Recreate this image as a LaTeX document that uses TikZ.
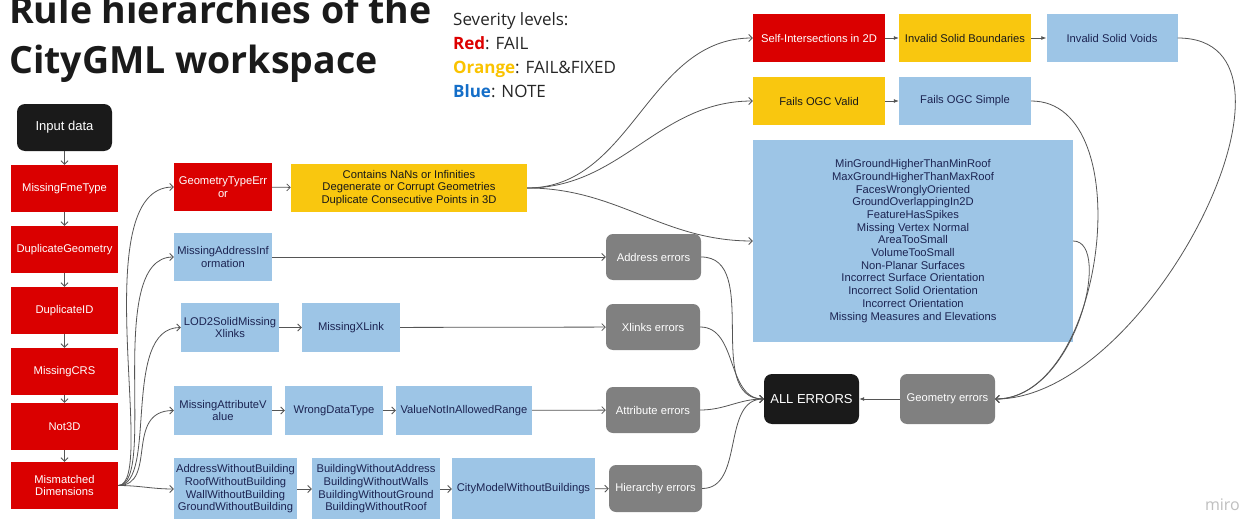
\documentclass[tikz,border=0pt]{standalone}
\usepackage{fontspec}
\setmainfont{Liberation Sans}
\newfontfamily\osans{Open Sans}
\usetikzlibrary{arrows.meta}
\definecolor{cred}{RGB}{218,0,0}
\definecolor{cyel}{RGB}{249,199,15}
\definecolor{cblue}{RGB}{157,197,230}
\definecolor{cnavy}{RGB}{28,36,82}
\definecolor{cgray}{RGB}{128,128,128}
\definecolor{cblack}{RGB}{26,26,26}
\definecolor{cline}{RGB}{85,85,85}
\definecolor{sevred}{RGB}{221,0,0}
\definecolor{sevorange}{RGB}{250,195,0}
\definecolor{sevblue}{RGB}{20,110,200}
\newcommand\bxfont{\fontsize{11.2}{12.7}\selectfont}
\newcommand\bigbxfont{\fontsize{13}{15}\selectfont}
\tikzset{
 bx/.style={rectangle, inner sep=0pt, align=center, font=\bxfont},
 sz/.style 2 args={minimum width=#1pt, minimum height=#2pt},
 redbox/.style={bx, fill=cred, text=white},
 yelbox/.style={bx, fill=cyel, text=black!90},
 bluebox/.style={bx, fill=cblue, text=cnavy},
 graybox/.style={bx, fill=cgray, text=white, rounded corners=7pt},
 blackbox/.style={bx, fill=cblack, text=white, rounded corners=8pt, font=\bigbxfont},
 con/.style={draw=cline, line width=0.8pt, -{Straight Barb[length=3.5pt,width=7pt]}},
 fcon/.style={draw=cline, line width=0.8pt, -{Latex[length=5pt,width=4pt]}},
 titletext/.style={anchor=base west, inner sep=0pt, text=cblack, font=\osans\bfseries\fontsize{37.5}{45}\selectfont},
 sevtext/.style={anchor=base west, inner sep=0pt, text=black!85, font=\osans\fontsize{17}{24}\selectfont},
}
\begin{document}
\begin{tikzpicture}[x=1pt,y=-1pt]
\useasboundingbox[fill=white] (0,0) rectangle (1245,519);

% title and legend
\node[titletext] (t1) at (9,24) {Rule hierarchies of the};
\node[titletext] (t2) at (9,74) {CityGML workspace};
\node[sevtext] (s0) at (453,26) {Severity levels:};
\node[sevtext] (s1) at (453,50) {\textcolor{sevred}{\bfseries Red}: FAIL};
\node[sevtext] (s2) at (453,74) {\textcolor{sevorange}{\bfseries Orange}: FAIL\&FIXED};
\node[sevtext] (s3) at (453,97) {\textcolor{sevblue}{\bfseries Blue}: NOTE};
\node[anchor=base east, inner sep=0pt, text=black!25, font=\osans\fontsize{16}{18}\selectfont] (miro) at (1240,510) {miro};

% left column
\node[blackbox, sz={95}{47}] (inp) at (64.5,127.5) {Input data};
\node[redbox, sz={107}{47}] (mft) at (64.5,188.5) {MissingFmeType};
\node[redbox, sz={107}{47}] (dg) at (64.5,249.5) {DuplicateGeometry};
\node[redbox, sz={107}{47}] (did) at (64.5,310.5) {DuplicateID};
\node[redbox, sz={107}{47}] (crs) at (64.5,371.5) {MissingCRS};
\node[redbox, sz={107}{47}] (n3d) at (64.5,426.5) {Not3D};
\node[redbox, sz={107}{47}] (mmd) at (64.5,485.5) {Mismatched\\Dimensions};

% middle
\node[redbox, sz={98}{48}] (gte) at (223,187) {GeometryTypeErr\\or};
\node[yelbox, sz={236}{48}] (yel) at (409,188) {Contains NaNs or Infinities\\Degenerate or Corrupt Geometries\\Duplicate Consecutive Points in 3D};
\node[bluebox, sz={98}{48}] (mai) at (223,257) {MissingAddressInf\\ormation};
\node[bluebox, sz={98}{49}] (lod) at (230,327.5) {LOD2SolidMissing\\Xlinks};
\node[bluebox, sz={98}{49}] (mxl) at (351,327.5) {MissingXLink};
\node[bluebox, sz={98}{49}] (mav) at (223,410.5) {MissingAttributeV\\alue};
\node[bluebox, sz={98}{49}] (wdt) at (334,410.5) {WrongDataType};
\node[bluebox, sz={136}{49}] (vna) at (464,410.5) {ValueNotInAllowedRange};
\node[bluebox, sz={123}{62}] (awb) at (235.5,489) {AddressWithoutBuilding\\RoofWithoutBuilding\\WallWithoutBuilding\\GroundWithoutBuilding};
\node[bluebox, sz={128}{62}] (bwa) at (376,489) {BuildingWithoutAddress\\BuildingWithoutWalls\\BuildingWithoutGround\\BuildingWithoutRoof};
\node[bluebox, sz={143}{62}] (cmw) at (523.5,489) {CityModelWithoutBuildings};

% error collectors
\node[graybox, sz={95}{46}] (adr) at (653.5,257) {Address errors};
\node[graybox, sz={94}{46}] (xle) at (653,327) {Xlinks errors};
\node[graybox, sz={94}{46}] (ate) at (653,410) {Attribute errors};
\node[graybox, sz={93}{47}] (hie) at (655.5,488.5) {Hierarchy errors};

% right
\node[redbox, sz={132}{48}] (si2) at (819,38) {Self-Intersections in 2D};
\node[yelbox, sz={132}{48}] (isb) at (965,38) {Invalid Solid Boundaries};
\node[bluebox, sz={131}{48}] (isv) at (1112,38) {Invalid Solid Voids};
\node[yelbox, sz={132}{48}] (ogv) at (819,101) {Fails OGC Valid};
\node[bluebox, sz={132}{48}] (ogs) at (965,101) {Fails OGC Simple};
\node[bluebox, sz={320}{202}] (big) at (913,241) {MinGroundHigherThanMinRoof\\MaxGroundHigherThanMaxRoof\\FacesWronglyOriented\\GroundOverlappingIn2D\\FeatureHasSpikes\\Missing Vertex Normal\\AreaTooSmall\\VolumeTooSmall\\Non-Planar Surfaces\\Incorrect Surface Orientation\\Incorrect Solid Orientation\\Incorrect Orientation\\Missing Measures and Elevations};
\node[blackbox, sz={95}{50}] (all) at (811.5,399) {ALL ERRORS};
\node[graybox, sz={95}{50}] (geo) at (947.5,399) {Geometry errors};

% connectors: left column
\draw[con] (inp) -- (mft);
\draw[con] (mft) -- (dg);
\draw[con] (dg) -- (did);
\draw[con] (did) -- (crs);
\draw[con] (crs) -- (n3d);
\draw[con] (n3d) -- (mmd);

% fan out from Mismatched Dimensions
\draw[con] (mmd.east) .. controls +(40,0) and +(-90,0) .. (gte.west);
\draw[con] (mmd.east) .. controls +(40,0) and +(-70,0) .. (mai.west);
\draw[con] (mmd.east) .. controls +(40,0) and +(-60,0) .. (lod.west);
\draw[con] (mmd.east) .. controls +(40,0) and +(-50,0) .. (mav.west);
\draw[con] (mmd.east) to[out=0,in=180] (awb.west);

% rows
\draw[con] (gte) -- (yel);
\draw[con] (mai) -- (adr);
\draw[con] (lod) -- (mxl);
\draw[con] (mxl) -- (xle);
\draw[con] (mav) -- (wdt);
\draw[con] (wdt) -- (vna);
\draw[con] (vna) -- (ate);
\draw[con] (awb) -- (bwa);
\draw[con] (bwa) -- (cmw);
\draw[con] (cmw) -- (hie);

% yellow to right side
\draw[con] (yel.east) to[out=0,in=180] (si2.west);
\draw[con] (yel.east) to[out=0,in=180] (ogv.west);
\draw[con] (yel.east) to[out=0,in=180] (big.west);

\draw[fcon] (si2) -- (isb);
\draw[fcon] (isb) -- (isv);
\draw[fcon] (ogv) -- (ogs);

% to geometry errors
\draw[con] (isv.east) .. controls +(152,0) and +(155,0) .. (geo.east);
\draw[con] (ogs.east) .. controls +(110,0) and +(110,0) .. (geo.east);
\draw[con] (big.east) .. controls +(40,0) and +(80,0) .. (geo.east);
\draw[fcon] (geo) -- (all);

% to all errors
\draw[con] (adr.east) to[out=0,in=180] (all.west);
\draw[con] (xle.east) to[out=0,in=180] (all.west);
\draw[con] (ate.east) to[out=0,in=180] (all.west);
\draw[con] (hie.east) to[out=0,in=180] (all.west);
\end{tikzpicture}
\end{document}
